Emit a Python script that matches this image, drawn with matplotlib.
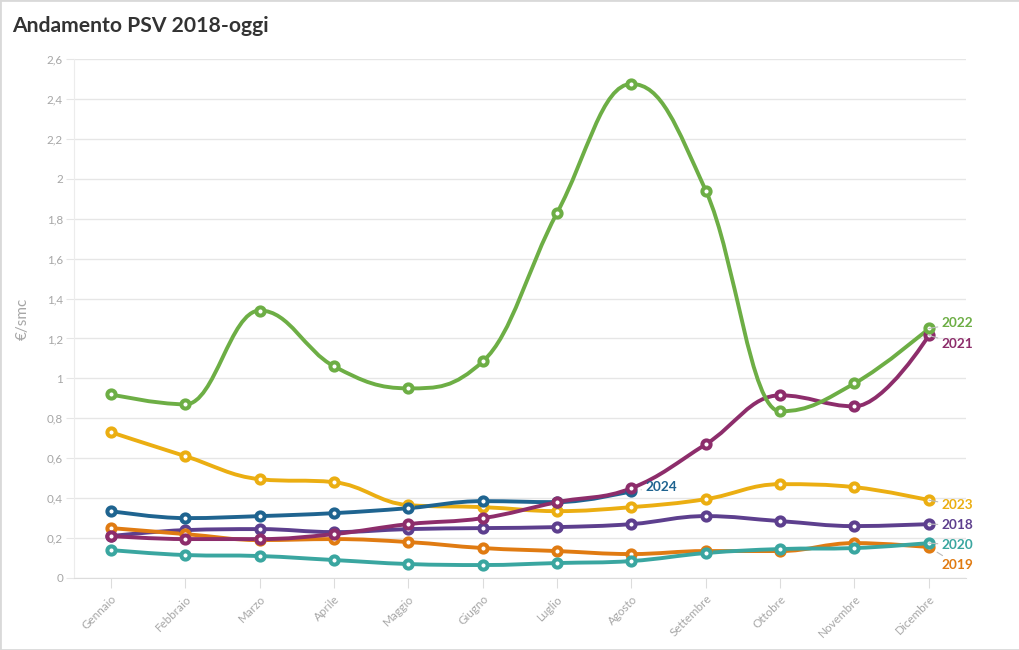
import numpy as np
import matplotlib
matplotlib.use("Agg")
import matplotlib.pyplot as plt
from matplotlib.path import Path
from matplotlib.patches import PathPatch, Rectangle

plt.rcParams['font.family'] = ['Lato', 'DejaVu Sans']

months = ["Gennaio", "Febbraio", "Marzo", "Aprile", "Maggio", "Giugno",
          "Luglio", "Agosto", "Settembre", "Ottobre", "Novembre", "Dicembre"]

y2018 = [0.21, 0.24, 0.245, 0.23, 0.245, 0.25, 0.255, 0.27, 0.31, 0.285, 0.26, 0.27]
y2019 = [0.25, 0.22, 0.19, 0.195, 0.18, 0.15, 0.135, 0.12, 0.135, 0.135, 0.175, 0.155]
y2020 = [0.14, 0.115, 0.11, 0.09, 0.07, 0.065, 0.075, 0.085, 0.125, 0.145, 0.15, 0.175]
y2021 = [0.21, 0.195, 0.195, 0.22, 0.27, 0.30, 0.38, 0.45, 0.67, 0.915, 0.86, 1.215]
y2022 = [0.92, 0.87, 1.34, 1.06, 0.95, 1.085, 1.83, 2.475, 1.94, 0.835, 0.975, 1.25]
y2023 = [0.73, 0.61, 0.495, 0.48, 0.365, 0.355, 0.335, 0.355, 0.395, 0.47, 0.455, 0.39]
y2024 = [0.335, 0.30, 0.31, 0.325, 0.35, 0.385, 0.38, 0.435]

yticks = [0, 0.2, 0.4, 0.6, 0.8, 1, 1.2, 1.4, 1.6, 1.8, 2, 2.2, 2.4, 2.6]
ytick_labels = ["0", "0,2", "0,4", "0,6", "0,8", "1", "1,2", "1,4", "1,6", "1,8", "2", "2,2", "2,4", "2,6"]

# series: (name, values, color, label offset (dx, dy) in points)
series = [
    ("2018", y2018, "#5d3f8e", (9.4, -0.7)),
    ("2019", y2019, "#e07b12", (9.4, -13)),
    ("2020", y2020, "#3aa6a0", (9.4, -1.5)),
    ("2023", y2023, "#ebae12", (9.4, -3.8)),
    ("2024", y2024, "#1f6490", (10, 3)),
    ("2021", y2021, "#8d2d6b", (9.4, -5.8)),
    ("2022", y2022, "#6dae45", (9.4, 3.6)),
]


def hc_spline(xs, ys, smoothing=1.5):
    """Highcharts-style spline path."""
    n = len(xs)
    denom = smoothing + 1
    lc = [None] * n
    rc = [None] * n
    for i in range(n):
        px, py = xs[i], ys[i]
        if i == 0 or i == n - 1:
            lc[i] = (px, py)
            rc[i] = (px, py)
            continue
        lx, ly = xs[i - 1], ys[i - 1]
        nx, ny = xs[i + 1], ys[i + 1]
        lcx = (smoothing * px + lx) / denom
        lcy = (smoothing * py + ly) / denom
        rcx = (smoothing * px + nx) / denom
        rcy = (smoothing * py + ny) / denom
        corr = 0
        if rcx != lcx:
            corr = ((rcy - lcy) * (rcx - px)) / (rcx - lcx) + py - rcy
        lcy += corr
        rcy += corr
        if lcy > ly and lcy > py:
            lcy = max(ly, py)
            rcy = 2 * py - lcy
        elif lcy < ly and lcy < py:
            lcy = min(ly, py)
            rcy = 2 * py - lcy
        if rcy > ny and rcy > py:
            rcy = max(ny, py)
            lcy = 2 * py - rcy
        elif rcy < ny and rcy < py:
            rcy = min(ny, py)
            lcy = 2 * py - rcy
        lc[i] = (lcx, lcy)
        rc[i] = (rcx, rcy)
    verts = [(xs[0], ys[0])]
    codes = [Path.MOVETO]
    for i in range(1, n):
        verts += [rc[i - 1], lc[i], (xs[i], ys[i])]
        codes += [Path.CURVE4] * 3
    return Path(verts, codes)


fig = plt.figure(figsize=(10.2, 6.5), dpi=100)
fig.patches.append(Rectangle((0, 0), 1, 1, transform=fig.transFigure,
                             fill=False, edgecolor="#d9d9d9", linewidth=2))
ax = fig.add_axes([74 / 1020, 1 - 578 / 650, 892 / 1020, 519 / 650])

ax.set_xlim(-0.5, 11.5)
ax.set_ylim(0, 2.6)
ax.set_yticks(yticks)
ax.set_yticklabels(ytick_labels)
ax.set_xticks(range(len(months)))
ax.set_xticklabels(months, rotation=45, ha="right", rotation_mode="anchor")
ax.grid(axis="y", color="#e6e6e6", linewidth=1)
ax.set_axisbelow(True)
for s in ["top", "right"]:
    ax.spines[s].set_visible(False)
ax.spines["left"].set_color("#ececec")
ax.spines["bottom"].set_color("#dcdcdc")
ax.tick_params(axis="y", length=6, color="#e6e6e6", labelcolor="#a6a6a6",
               labelsize=8.4, pad=2)
ax.tick_params(axis="x", length=7, color="#dcdcdc", labelcolor="#a6a6a6",
               labelsize=8.4, pad=4)
ax.set_ylabel("€/smc", color="#a6a6a6", fontsize=11, labelpad=12)

for name, vals, col, off in series:
    xs = list(range(len(vals)))
    path = hc_spline(xs, vals)
    ax.add_patch(PathPatch(path, facecolor="none", edgecolor=col, linewidth=2.8,
                           capstyle="round", joinstyle="round"))
    ax.plot(xs, vals, linestyle="none", marker="o", markersize=5.9,
            markerfacecolor="white", markeredgecolor=col, markeredgewidth=2.9)
    ax.annotate(name, xy=(xs[-1], vals[-1]), xytext=off, textcoords="offset points",
                color=col, fontsize=9.8, fontweight="bold", va="center", ha="left",
                annotation_clip=False,
                arrowprops=dict(arrowstyle="-", color="#bbbbbb", lw=0.8,
                                shrinkA=1, shrinkB=7))

fig.text(12 / 1020, 1 - 26 / 650, "Andamento PSV 2018-oggi", fontsize=15.2,
         fontweight="bold", color="#333333", va="center", ha="left")

fig.savefig("out.png", dpi=100, facecolor="white")
